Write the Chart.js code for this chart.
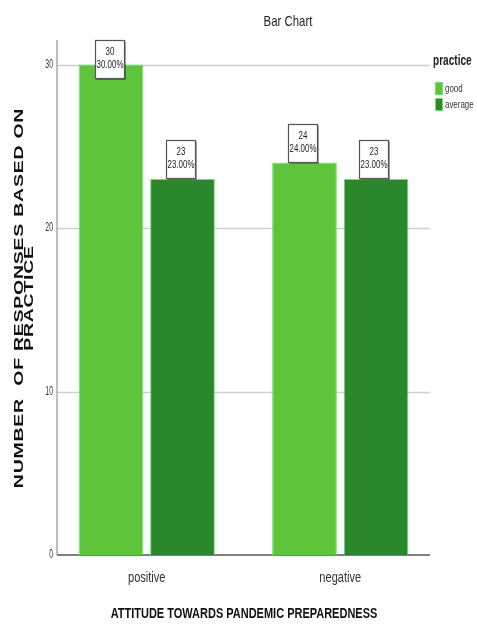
<!DOCTYPE html>
<html>
<head>
<meta charset="utf-8">
<script src="https://cdn.jsdelivr.net/npm/chart.js@4.4.1/dist/chart.umd.min.js"></script>
<style>
  html, body { margin: 0; padding: 0; background: #fff; }
  #wrap { width: 477px; height: 626px; }
</style>
</head>
<body>
<div id="wrap"><canvas id="bar" width="477" height="626"></canvas></div>
<script>
(function () {
  const categories = ["positive", "negative"];
  const goodValues = [30, 24];
  const averageValues = [23, 23];
  const goodPct = ["30.00%", "24.00%"];
  const averagePct = ["23.00%", "23.00%"];
  const seriesNames = ["good", "average"];
  const yTicks = [0, 10, 20, 30];

  const FONT = "'Liberation Sans', Arial, sans-serif";

  const goodFill = "#5dc43b";
  const avgFill = "#2a872c";
  const barEdge = "#6be56b";

  // plot frame (axis lines/grid run a bit inside the chart area, like SPSS)
  const frameLeft = 57;
  const frameRight = 430;

  // condensed/stretched text: no narrow font installed, so scale horizontally
  const txt = (ctx, s, x, y, font, sx, align, color) => {
    ctx.save();
    ctx.translate(x, y);
    ctx.scale(sx, 1);
    ctx.font = font;
    ctx.fillStyle = color || "#222";
    ctx.textAlign = align || "center";
    ctx.textBaseline = "middle";
    ctx.fillText(s, 0, 0);
    ctx.restore();
  };

  const frame = {
    id: "frame",
    beforeDatasetsDraw(chart) {
      const ctx = chart.ctx;
      const area = chart.chartArea;
      const y = chart.scales.y;
      const x = chart.scales.x;
      ctx.save();
      ctx.lineWidth = 1.5;
      ctx.strokeStyle = "#cfcfcf";
      yTicks.forEach((v) => {
        if (v === 0) return;
        const py = Math.round(y.getPixelForValue(v)) + 0.5;
        ctx.beginPath();
        ctx.moveTo(frameLeft, py);
        ctx.lineTo(frameRight, py);
        ctx.stroke();
      });
      ctx.strokeStyle = "#aaa";
      ctx.beginPath();
      ctx.moveTo(frameLeft, area.top);
      ctx.lineTo(frameLeft, area.bottom);
      ctx.stroke();
      ctx.strokeStyle = "#555";
      ctx.beginPath();
      ctx.moveTo(frameLeft, area.bottom);
      ctx.lineTo(frameRight, area.bottom);
      ctx.stroke();
      ctx.restore();

      yTicks.forEach((v) => {
        txt(ctx, String(v), frameLeft - 4, y.getPixelForValue(v), "12px " + FONT, 0.58, "right", "#333");
      });
      categories.forEach((c, i) => {
        txt(ctx, c, x.getPixelForValue(i), 578, "14px " + FONT, 0.79, "center", "#333");
      });
    },
  };

  // Boxed value labels above each bar
  const valueBoxes = {
    id: "valueBoxes",
    afterDatasetsDraw(chart) {
      const ctx = chart.ctx;
      const area = chart.chartArea;
      const pcts = [goodPct, averagePct];
      chart.data.datasets.forEach((ds, di) => {
        const meta = chart.getDatasetMeta(di);
        meta.data.forEach((el, i) => {
          const w = 29, h = 38;
          let bottom = el.y - 1;
          let top = bottom - h;
          if (top < area.top) { top = area.top; bottom = top + h; }
          const left = Math.round(el.x - w / 2 - 2) + 0.5;
          const t = Math.round(top) + 0.5;
          ctx.save();
          if (bottom < el.y) {
            ctx.strokeStyle = "#444";
            ctx.lineWidth = 1;
            ctx.beginPath();
            ctx.moveTo(Math.round(el.x) + 0.5, bottom);
            ctx.lineTo(Math.round(el.x) + 0.5, el.y);
            ctx.stroke();
          }
          ctx.fillStyle = "#fff";
          ctx.fillRect(left, t, w, h);
          ctx.strokeStyle = "#555";
          ctx.lineWidth = 1.2;
          ctx.strokeRect(left, t, w, h);
          ctx.strokeStyle = "rgba(0,0,0,0.35)";
          ctx.lineWidth = 1;
          ctx.beginPath();
          ctx.moveTo(left + 1, t + h + 1);
          ctx.lineTo(left + w + 1, t + h + 1);
          ctx.lineTo(left + w + 1, t + 1);
          ctx.stroke();
          ctx.restore();
          const cx = left + w / 2;
          txt(ctx, String(ds.data[i]), cx, top + 12, "11px " + FONT, 0.72, "center", "#222");
          txt(ctx, pcts[di][i], cx, top + 25, "11px " + FONT, 0.72, "center", "#222");
        });
      });
    },
  };

  // Titles and legend
  const decorations = {
    id: "decorations",
    afterDraw(chart) {
      const ctx = chart.ctx;
      txt(ctx, "Bar Chart", 288, 22, "15px " + FONT, 0.76, "center", "#222");
      txt(ctx, "ATTITUDE TOWARDS PANDEMIC PREPAREDNESS", 244, 614, "bold 14px " + FONT, 0.785, "center", "#111");

      // y title: letters stretched along the text direction
      ctx.save();
      ctx.translate(0, 298);
      ctx.rotate(-Math.PI / 2);
      ctx.scale(1.5, 1);
      ctx.font = "bold 13px " + FONT;
      ctx.fillStyle = "#111";
      ctx.textAlign = "center";
      ctx.textBaseline = "middle";
      ctx.letterSpacing = "0.5px";
      ctx.fillText("NUMBER  OF RESPONSES BASED ON", 0, 19);
      ctx.fillText("PRACTICE", 0, 29.5);
      ctx.restore();

      txt(ctx, "practice", 433, 61, "bold 14px " + FONT, 0.72, "left", "#222");
      const fills = [goodFill, avgFill];
      seriesNames.forEach((name, i) => {
        const y = 82 + i * 16;
        ctx.save();
        ctx.fillStyle = fills[i];
        ctx.fillRect(435, y, 8, 13);
        ctx.strokeStyle = barEdge;
        ctx.lineWidth = 1;
        ctx.strokeRect(435.5, y + 0.5, 7, 12);
        ctx.restore();
        txt(ctx, name, 445, y + 7, "11px " + FONT, 0.72, "left", "#333");
      });
    },
  };

  const ctx = document.getElementById("bar").getContext("2d");
  new Chart(ctx, {
    type: "bar",
    data: {
      labels: categories,
      datasets: [
        {
          label: seriesNames[0],
          data: goodValues,
          backgroundColor: goodFill,
          borderColor: barEdge,
          borderWidth: 1,
        },
        {
          label: seriesNames[1],
          data: averageValues,
          backgroundColor: avgFill,
          borderColor: barEdge,
          borderWidth: 1,
        },
      ],
    },
    options: {
      responsive: false,
      animation: false,
      layout: { padding: { left: 0, right: 40, top: 40, bottom: 0 } },
      datasets: {
        bar: { categoryPercentage: 0.739, barPercentage: 0.905 },
      },
      plugins: {
        legend: { display: false },
        title: { display: false },
        tooltip: { enabled: false },
      },
      scales: {
        x: {
          grid: { display: false, drawTicks: false },
          border: { display: false },
          ticks: { display: false },
          afterFit: (s) => { s.height = 71; },
        },
        y: {
          min: 0,
          max: 31.5,
          afterBuildTicks: (s) => { s.ticks = yTicks.map((v) => ({ value: v })); },
          ticks: { display: false },
          grid: { display: false, drawTicks: false },
          border: { display: false },
          afterFit: (s) => { s.width = 50; },
        },
      },
    },
    plugins: [frame, valueBoxes, decorations],
  });
})();
</script>
</body>
</html>
